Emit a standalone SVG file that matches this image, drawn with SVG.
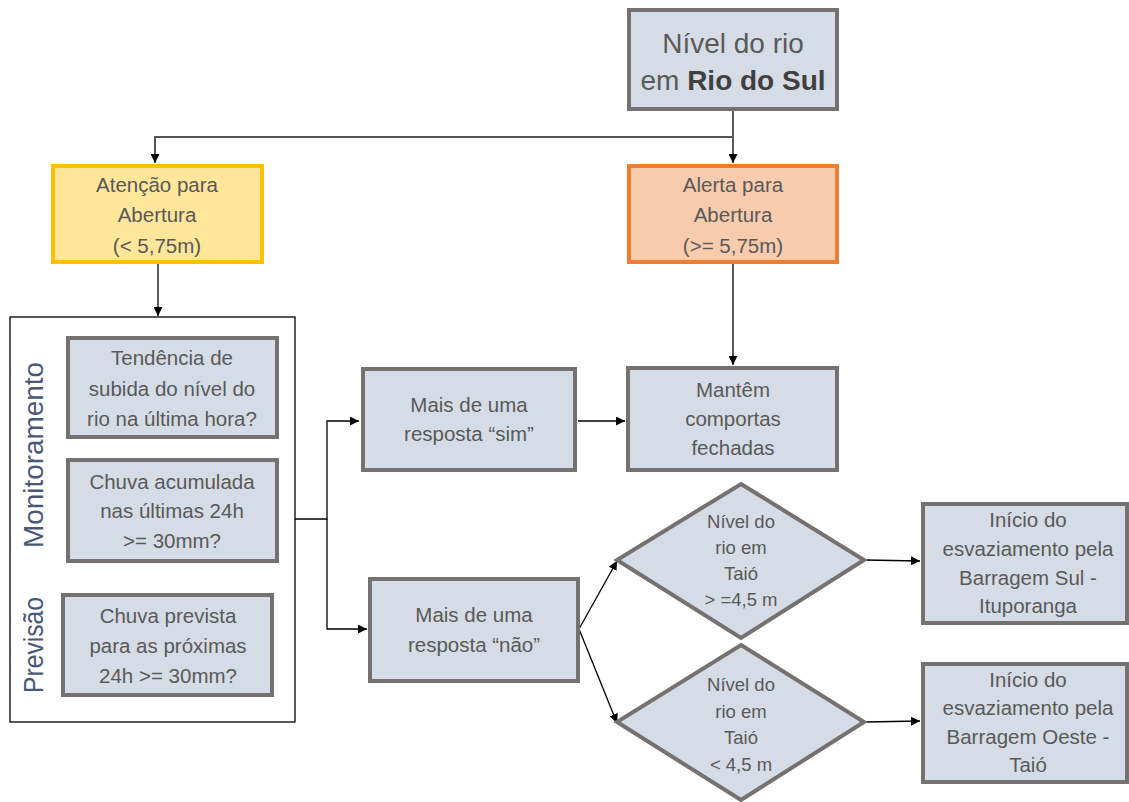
<svg xmlns="http://www.w3.org/2000/svg" width="1129" height="802" viewBox="0 0 1129 802">
<style>
.box{fill:#d6dce5;stroke:#767171;stroke-width:4}
.t{font-family:"Liberation Sans",Arial,sans-serif;font-size:20.5px;fill:#595959;text-anchor:middle}
.d{font-size:18.5px}
.big{font-size:28px}
.side{font-family:"Liberation Sans",Arial,sans-serif;font-size:27px;fill:#4a5878;text-anchor:middle}
.c{fill:none;stroke:#000;stroke-width:1.3}
</style>
<defs>
<marker id="ah" viewBox="0 0 10 10" refX="10" refY="5" markerWidth="9" markerHeight="9" markerUnits="userSpaceOnUse" orient="auto">
<path d="M0,0 L10,5 L0,10 z" fill="#000"/>
</marker>
</defs>
<rect width="1129" height="802" fill="#fff"/>

<g id="connectors">
<path class="c" d="M733,110 V163" marker-end="url(#ah)"/>
<path class="c" d="M733,137 H155 V163" marker-end="url(#ah)" style="stroke:#555;stroke-width:2"/>
<path class="c" d="M158,263 V316" marker-end="url(#ah)"/>
<path class="c" d="M733,263 V365" marker-end="url(#ah)"/>
<path class="c" d="M295,519 H327 V421 H359" marker-end="url(#ah)"/>
<path class="c" d="M327,519 V629 H367" marker-end="url(#ah)"/>
<path class="c" d="M578,421 H625" marker-end="url(#ah)"/>
<path class="c" d="M579,629 L617,561" marker-end="url(#ah)"/>
<path class="c" d="M579,629 L617,723" marker-end="url(#ah)"/>
<path class="c" d="M865,560 L920,561" marker-end="url(#ah)"/>
<path class="c" d="M865,722 L920,721" marker-end="url(#ah)"/>
</g>

<g id="nivel-rio">
<rect class="box" x="629" y="10" width="208" height="99"/>
<text class="t big" x="733" y="53">Nível do rio</text>
<text class="t big" x="733" y="90">em <tspan font-weight="bold" fill="#404040">Rio do Sul</tspan></text>
</g>

<g id="atencao">
<rect x="53" y="166" width="209" height="96" fill="#ffe699" stroke="#ffc000" stroke-width="4"/>
<text class="t" x="157" y="192">Atenção para</text>
<text class="t" x="157" y="222">Abertura</text>
<text class="t" x="157" y="253">(&lt; 5,75m)</text>
</g>

<g id="alerta">
<rect x="629" y="166" width="208" height="96" fill="#f8cbad" stroke="#ed7d31" stroke-width="4"/>
<text class="t" x="733" y="192">Alerta para</text>
<text class="t" x="733" y="222">Abertura</text>
<text class="t" x="733" y="253">(&gt;= 5,75m)</text>
</g>

<g id="grupo">
<rect x="10" y="317" width="285" height="405" fill="none" stroke="#000" stroke-width="1.3"/>
<text class="side" transform="translate(43,455) rotate(-90)" textLength="186" lengthAdjust="spacingAndGlyphs">Monitoramento</text>
<text class="side" transform="translate(43,645) rotate(-90)" textLength="96" lengthAdjust="spacingAndGlyphs">Previsão</text>
</g>

<g id="tendencia">
<rect class="box" x="68" y="338" width="209" height="99"/>
<text class="t" x="172" y="365">Tendência de</text>
<text class="t" x="172" y="396">subida do nível do</text>
<text class="t" x="172" y="426">rio na última hora?</text>
</g>

<g id="chuva-acumulada">
<rect class="box" x="68" y="460" width="209" height="101"/>
<text class="t" x="172" y="489">Chuva acumulada</text>
<text class="t" x="172" y="518">nas últimas 24h</text>
<text class="t" x="172" y="548">&gt;= 30mm?</text>
</g>

<g id="chuva-prevista">
<rect class="box" x="63" y="595" width="209" height="100"/>
<text class="t" x="168" y="623">Chuva prevista</text>
<text class="t" x="168" y="653">para as próximas</text>
<text class="t" x="168" y="683">24h &gt;= 30mm?</text>
</g>

<g id="mais-sim">
<rect class="box" x="363" y="369" width="212" height="101"/>
<text class="t" x="469" y="412">Mais de uma</text>
<text class="t" x="469" y="441">resposta “sim”</text>
</g>

<g id="mantem">
<rect class="box" x="628" y="368" width="209" height="102"/>
<text class="t" x="733" y="397">Mantêm</text>
<text class="t" x="733" y="426">comportas</text>
<text class="t" x="733" y="455">fechadas</text>
</g>

<g id="mais-nao">
<rect class="box" x="370" y="579" width="208" height="102"/>
<text class="t" x="474" y="622">Mais de uma</text>
<text class="t" x="474" y="652">resposta “não”</text>
</g>

<g id="taio-maior">
<polygon class="box" points="741,484 864,560 741,638 617,560"/>
<text class="t d" x="741" y="528">Nível do</text>
<text class="t d" x="741" y="554">rio em</text>
<text class="t d" x="741" y="580">Taió</text>
<text class="t d" x="741" y="606">&gt; =4,5 m</text>
</g>

<g id="taio-menor">
<polygon class="box" points="741,645 864,722 741,800 617,722"/>
<text class="t d" x="741" y="691">Nível do</text>
<text class="t d" x="741" y="718">rio em</text>
<text class="t d" x="741" y="744">Taió</text>
<text class="t d" x="741" y="771">&lt; 4,5 m</text>
</g>

<g id="barragem-sul">
<rect class="box" x="923" y="504" width="204" height="119"/>
<text class="t" x="1028" y="527">Início do</text>
<text class="t" x="1028" y="556">esvaziamento pela</text>
<text class="t" x="1028" y="585">Barragem Sul -</text>
<text class="t" x="1028" y="613">Ituporanga</text>
</g>

<g id="barragem-oeste">
<rect class="box" x="923" y="664" width="204" height="118"/>
<text class="t" x="1028" y="687">Início do</text>
<text class="t" x="1028" y="715">esvaziamento pela</text>
<text class="t" x="1028" y="744">Barragem Oeste -</text>
<text class="t" x="1028" y="772">Taió</text>
</g>
</svg>
